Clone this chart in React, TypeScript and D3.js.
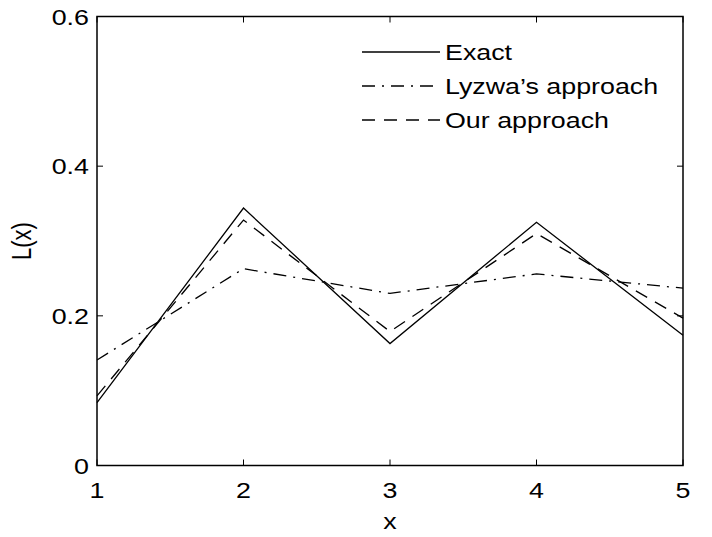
import * as d3 from 'd3';
import { useEffect, useRef } from 'react';

const xs = [1, 2, 3, 4, 5];
const exact = [0.084, 0.344, 0.163, 0.325, 0.174];
const lyzwa = [0.141, 0.263, 0.23, 0.256, 0.237];
const ours = [0.093, 0.328, 0.179, 0.31, 0.197];
const seriesNames = ['Exact', "Lyzwa\u2019s approach", 'Our approach'];
const dashes = ['none', '13,7,2,7', '13,9'];
const xTicks = [1, 2, 3, 4, 5];
const yTicks = [0, 0.2, 0.4, 0.6];

export default function App() {
    const svgRef = useRef<SVGSVGElement>(null);
    const width = 712;
    const height = 537;
    const margin = { top: 16.5, right: 29, bottom: 71.5, left: 97 };

    useEffect(() => {
        const svg = d3.select(svgRef.current);
        svg.selectAll('*').remove();

        const x = d3.scaleLinear().domain([1, 5]).range([margin.left, width - margin.right]);
        const y = d3.scaleLinear().domain([0, 0.6]).range([height - margin.bottom, margin.top]);
        const font = 'Liberation Sans, Arial, sans-serif';
        const sx = 1.22; // the picture is stretched sideways

        const label = (px: number, py: number, str: string, anchor: string, rot = false) =>
            svg.append('text')
                .attr('transform', `translate(${px}, ${py}) scale(${sx}, 1)${rot ? ' rotate(-90)' : ''}`)
                .attr('text-anchor', anchor)
                .style('font-family', font)
                .style('font-size', '22px')
                .text(str);

        svg.append('rect').attr('width', width).attr('height', height).attr('fill', 'white');

        // ticks inside, both sides
        const tl = 6;
        xTicks.forEach((t) => {
            svg.append('line').attr('x1', x(t)).attr('x2', x(t))
                .attr('y1', y(0)).attr('y2', y(0) - tl).attr('stroke', 'black');
            svg.append('line').attr('x1', x(t)).attr('x2', x(t))
                .attr('y1', y(0.6)).attr('y2', y(0.6) + tl).attr('stroke', 'black');
            label(x(t), y(0) + 32, String(t), 'middle');
        });
        yTicks.forEach((t) => {
            svg.append('line').attr('x1', x(1)).attr('x2', x(1) + tl)
                .attr('y1', y(t)).attr('y2', y(t)).attr('stroke', 'black');
            svg.append('line').attr('x1', x(5)).attr('x2', x(5) - tl)
                .attr('y1', y(t)).attr('y2', y(t)).attr('stroke', 'black');
            label(x(1) - 8, y(t) + 8, d3.format('')(t), 'end');
        });

        const line = d3.line<number>().x((_, i) => x(xs[i])).y((d) => y(d));
        [exact, lyzwa, ours].forEach((s, i) => {
            svg.append('path').datum(s).attr('d', line).attr('fill', 'none')
                .attr('stroke', 'black').attr('stroke-width', 1.3)
                .attr('stroke-dasharray', dashes[i]);
        });

        // legend
        seriesNames.forEach((name, i) => {
            const ly = 52 + i * 34;
            svg.append('line').attr('x1', 362).attr('x2', 440).attr('y1', ly).attr('y2', ly)
                .attr('stroke', 'black').attr('stroke-width', 1.3)
                .attr('stroke-dasharray', dashes[i]);
            label(445, ly + 8, name, 'start');
        });

        svg.append('rect').attr('x', x(1)).attr('y', y(0.6))
            .attr('width', x(5) - x(1)).attr('height', y(0) - y(0.6))
            .attr('fill', 'none').attr('stroke', 'black').attr('stroke-width', 1.5);

        label((x(1) + x(5)) / 2, 529, 'x', 'middle');
        label(31, (y(0) + y(0.6)) / 2, 'L(x)', 'middle', true);
    }, []);

    return (
        <svg ref={svgRef} width={width} height={height}
            style={{ position: 'absolute', left: 0, top: 0 }}></svg>
    );
}
